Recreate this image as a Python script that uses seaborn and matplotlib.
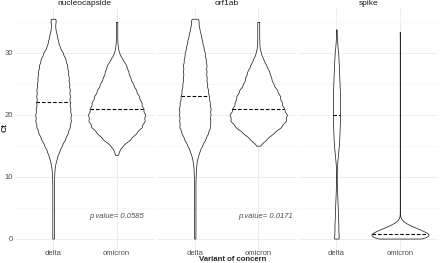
import numpy as np
import pandas as pd
import seaborn as sns
import matplotlib.pyplot as plt

genes = ['nucleocapside', 'orf1ab', 'spike']
variants = ['delta', 'omicron']
p_labels = ['p.value= 0.0585', 'p.value= 0.0171', '']

# Ct values (bins) and how many samples sit in each
nuc_delta_ct = list(range(0, 36)) + [35.5]
nuc_delta_n = [3, 3, 3, 3, 3, 3, 3, 3, 3, 3, 4, 5, 8, 14, 22, 32, 44, 54, 62, 66,
               66, 64, 62, 62, 62, 60, 58, 56, 52, 46, 36, 24, 18, 13, 8, 7, 6]
nuc_omicron_ct = [13.5] + list(range(14, 36))
nuc_omicron_n = [2, 8, 24, 56, 80, 104, 116, 118, 110, 102, 92, 80, 68, 56, 48, 40,
                 24, 10, 5, 3, 3, 3, 3]

orf_delta_ct = list(range(0, 36)) + [35.5]
orf_delta_n = [3, 3, 3, 3, 3, 3, 3, 3, 3, 3, 4, 5, 7, 12, 20, 32, 46, 58, 68, 68,
               69, 70, 66, 62, 58, 54, 52, 51, 52, 48, 44, 38, 32, 26, 20, 14, 8]
orf_omicron_ct = list(range(15, 36))
orf_omicron_n = [6, 32, 60, 92, 112, 116, 104, 94, 88, 76, 60, 52, 44, 32, 20, 10,
                 5, 4, 4, 4, 4]

spike_delta_ct = list(range(0, 34)) + [33.8]
spike_delta_n = [30, 24, 24, 21, 18, 16, 13, 10, 7, 5, 4, 5, 8, 15, 22, 29, 34, 37,
                 40, 42, 43, 43, 42, 43, 41, 38, 35, 32, 29, 25, 21, 13, 8, 4, 2]
spike_omicron_ct = [0, 0.25, 0.5, 0.75, 1.0, 1.25, 1.5, 1.75, 2.0, 2.25, 2.5, 2.75,
                    3.0] + list(range(4, 34)) + [33.4]
spike_omicron_n = [68, 58, 56, 52, 46, 40, 34, 26, 20, 14, 8, 4, 2] + [1] * 30 + [1]

groups = [
    ('nucleocapside', 'delta', nuc_delta_ct, nuc_delta_n),
    ('nucleocapside', 'omicron', nuc_omicron_ct, nuc_omicron_n),
    ('orf1ab', 'delta', orf_delta_ct, orf_delta_n),
    ('orf1ab', 'omicron', orf_omicron_ct, orf_omicron_n),
    ('spike', 'delta', spike_delta_ct, spike_delta_n),
    ('spike', 'omicron', spike_omicron_ct, spike_omicron_n),
]
frames = []
for gene, variant, ct, n in groups:
    frames.append(pd.DataFrame({'gene': gene, 'variant': variant,
                                'Ct': np.repeat(ct, n)}))
df = pd.concat(frames, ignore_index=True)

sns.set_theme(style='whitegrid')
plt.rcParams['font.family'] = ['Liberation Sans', 'DejaVu Sans']


# fixed kernel width (in Ct units) for every violin
def kde_bw(kde):
    return 0.5 / np.std(kde.dataset)


fig, axes = plt.subplots(1, 3, figsize=(4.4, 2.63), dpi=100, sharey=True)
fig.subplots_adjust(left=15 / 440, right=438 / 440, bottom=1 - 250 / 263,
                    top=1 - 7 / 263, wspace=0.0143)

for k, (ax, gene) in enumerate(zip(axes, genes)):
    sub = df[df['gene'] == gene]
    sns.violinplot(data=sub, x='variant', y='Ct', order=variants, color='white',
                   saturation=1, linecolor='#262626', linewidth=0.55,
                   inner='quart', common_norm=True, density_norm='area',
                   cut=0, width=0.9, bw_method=kde_bw, gridsize=400, ax=ax)
    # keep only the median line of the quartile set
    for i, line in enumerate(list(ax.lines)):
        if i % 3 != 1:
            line.remove()
        else:
            line.set_color('black')
            line.set_linestyle((0, (3.2, 1.8)))
            line.set_linewidth(0.8)

    ax.set_xlim(-0.6, 1.6)
    ax.set_ylim(-1.85, 37.4)
    ax.set_yticks([0, 10, 20, 30])
    ax.set_yticks([5, 15, 25, 35], minor=True)
    ax.grid(True, which='major', color='#EBEBEB', linewidth=0.6)
    ax.grid(True, which='minor', axis='y', color='#F3F3F3', linewidth=0.4)
    ax.set_axisbelow(True)
    ax.tick_params(which='both', length=0, labelsize=5.5, labelcolor='#4D4D4D')
    ax.tick_params(axis='y', pad=1.5)
    ax.tick_params(axis='x', pad=0.3)
    for s in ax.spines.values():
        s.set_visible(False)
    ax.set_xlabel('')
    ax.set_ylabel('')
    ax.set_title(gene, fontsize=6, color='#1A1A1A', pad=1.2)
    if p_labels[k]:
        xpos = 1.0 if k == 0 else 1.12
        ax.text(xpos, 3.5, p_labels[k], ha='center', va='center', fontsize=5.5,
                style='italic', color='#4D4D4D')

fig.text(233 / 440, 1 - 259.5 / 263, 'Variant of concern', ha='center', va='center',
         fontsize=5.6, fontweight='bold')
fig.text(5 / 440, 1 - 128 / 263, 'Ct', ha='center', va='center', rotation=90,
         fontsize=6, fontweight='bold')

fig.savefig('out.png', dpi=100)
